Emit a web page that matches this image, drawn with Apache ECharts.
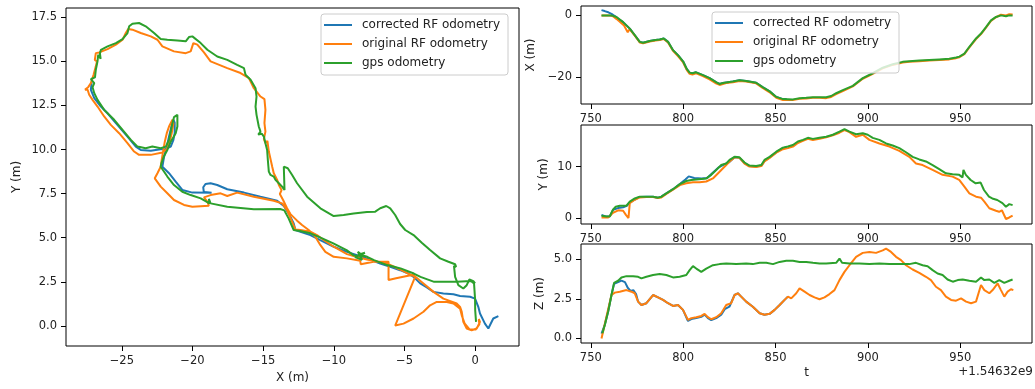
<!DOCTYPE html>
<html><head><meta charset="utf-8">
<script src="https://cdn.jsdelivr.net/npm/echarts@6/dist/echarts.min.js"></script>
<style>html,body{margin:0;padding:0;background:#fff}#c{width:1035px;height:389px}</style>
</head><body><div id="c"></div>
<script>
// ---------- names ----------
const seriesNames = ['corrected RF odometry', 'original RF odometry', 'gps odometry'];
const seriesColors = ['#1f77b4', '#ff7f0e', '#2ca02c'];

// ---------- tick labels ----------
const xyXTicks = [-25, -20, -15, -10, -5, 0];
const xyYTicks = [0, 2.5, 5, 7.5, 10, 12.5, 15, 17.5];
const tTicks = [750, 800, 850, 900, 950];
const xTTicks = [-20, 0];
const yTTicks = [0, 10];
const zTTicks = [0, 2.5, 5];
const tOffsetLabel = '+1.54632e9';

// ---------- XY trajectories [X (m), Y (m)] ----------
const trajCorrected = [
[1.64,0.55],[1.28,0.42],[0.93,-0.15],[0.69,0.13],[0.34,0.70],[0.22,1.08],[-0.01,1.55],[-0.36,1.65],[-1.07,1.70],[-1.54,1.80],[-2.25,1.84],[-2.95,1.93],[-3.42,2.18],[-3.89,2.41],[-4.36,2.78],[-4.72,2.97],[-5.31,3.16],[-6.01,3.35],[-6.72,3.54],[-7.66,3.83],[-8.13,3.96],[-9.07,4.2],[-10.0,4.49],[-10.96,4.87],[-11.66,5.15],[-12.36,5.34],[-12.72,5.44],[-12.84,5.81],[-13.19,6.38],[-13.54,6.80],[-14.01,7.10],[-15.19,7.33],[-16.36,7.56],[-17.54,7.75],[-18.25,7.99],[-18.72,8.09],[-19.08,8.05],[-19.24,7.86],[-19.2,7.6],[-18.65,7.55],[-20.01,7.56],[-20.72,7.71],[-21.19,8.18],[-21.66,8.66],[-22.13,9.03],[-22.01,9.6],[-21.82,10.17],[-21.66,10.74],[-21.49,11.31],[-21.35,11.69],[-21.26,11.53],[-21.26,10.93],[-21.35,10.55],[-21.54,10.17],[-21.89,10.04],[-22.25,10.02],[-22.95,9.94],[-23.66,9.98],[-24.01,10.17],[-24.60,10.74],[-25.42,11.50],[-26.01,12.06],[-26.48,12.44],[-26.95,12.92],[-27.19,13.39],[-27.14,13.77],[-27.2,13.85]
];
const trajOriginal = [
[0.25,0.35],[0.3,0.1],[0.05,-0.2],[-0.4,-0.2],[-0.75,0.15],[-0.95,0.6],[-1.07,0.98],[-1.54,1.27],[-2.01,1.36],[-2.72,1.36],[-3.19,1.17],[-3.66,0.8],[-4.36,0.42],[-5.07,0.13],[-5.66,0.02],
[-4.25,2.78],[-4.84,3.01],[-5.31,3.2],[-6.25,3.54],[-7.66,3.77],[-8.6,3.96],[-9.07,4.07],[-10.01,4.49],[-10.72,4.87],[-11.19,5.15],[-11.66,5.34],[-12.36,5.44],[-12.72,5.47],[-13.0,6.0],[-13.31,6.57],[-13.66,6.95],[-14.25,7.1],[-15.66,7.33],[-16.84,7.56],[-17.54,7.37],[-18.01,7.52],[-18.72,7.42],[-19.19,7.29],[-18.95,7.05],[-18.84,6.82],[-18.95,6.86],[-20.01,6.76],[-20.6,6.86],[-21.31,7.14],[-21.78,7.52],[-22.25,7.9],[-22.67,8.37],[-22.48,8.66],[-22.25,9.03],[-22.18,9.41],[-22.06,9.98],[-21.96,10.45],[-21.82,10.93],[-21.66,11.31],[-21.42,11.69],[-21.35,11.46],[-21.47,10.93],[-21.64,10.36],[-21.82,10.02],[-22.13,9.83],[-22.95,9.7],[-23.78,9.7],[-24.13,9.89],[-24.6,10.36],[-25.19,10.93],[-25.78,11.4],[-26.25,11.88],[-26.72,12.44],[-27.07,12.82],[-27.31,13.11],[-27.42,13.39],[-27.6,13.4],[-27.38,13.54],[-27.19,13.77],[-27.0,14.24],[-26.84,14.72],[-26.76,15.0],[-26.91,15.09],[-26.84,15.47],[-26.6,15.51],[-26.01,15.7],[-25.42,15.95],[-24.95,16.23],[-24.72,16.61],[-24.55,16.84],[-24.25,16.8],[-23.66,16.61],[-22.95,16.42],[-22.48,16.23],[-22.13,15.85],[-21.31,15.57],[-20.48,15.47],[-20.13,15.57],[-19.94,16.04],[-19.66,15.95],[-19.19,15.51],[-18.72,15.0],[-17.54,14.62],[-16.6,14.34],[-16.01,14.05],[-15.66,13.48],[-15.19,13.01],[-14.91,12.86],[-14.84,12.25],[-14.91,11.5],[-14.84,11.02],[-14.95,10.6],[-14.84,10.36],[-14.7,10.5],[-14.6,9.89],[-14.36,9.03],[-14.25,8.66],[-14.01,8.28],[-13.89,7.99],[-13.7,7.7],[-13.82,7.48],[-13.59,7.14],[-13.31,6.67],[-13.07,6.34],[-12.6,5.97],[-12.25,5.72],[-11.78,5.44],[-11.31,5.06],[-10.95,4.58],[-10.6,4.2],[-10.01,3.92],[-9.07,3.83],[-8.13,3.69],[-8.1,3.5],[-7.19,3.64],[-6.13,3.64],[-6.13,2.6],[-5.6,2.7],[-4.4,2.9],[-3.66,2.41],[-2.95,1.93],[-2.25,1.55],[-1.31,1.27],[-1.07,1.08],[-0.95,0.8],[-1.05,0.7],[-0.84,0.23],[-0.6,-0.15],[-0.25,-0.25],[0.11,-0.15],[0.34,0.23],[0.25,0.4]
];
const trajGps = [
[0.06,0.23],[0.0,0.9],[-0.01,1.55],[-0.08,2.4],[-0.3,2.55],[-1.3,2.5],[-2.9,2.5],[-3.87,2.78],[-4.34,2.97],[-5.28,3.26],[-6.22,3.45],[-7.16,3.73],[-7.64,3.92],
[-8.2,4.05],[-7.8,4.15],[-8.5,3.9],[-8.0,3.75],[-8.3,4.2],[-7.9,3.95],[-8.6,4.0],
[-9.1,4.3],[-10.04,4.68],[-10.98,5.02],[-11.66,5.25],[-12.4,5.38],[-12.84,5.44],[-13.2,6.1],[-13.5,6.55],[-13.8,6.63],[-15.66,6.61],[-17.54,6.76],[-18.72,6.95],[-18.84,7.2],[-18.8,6.95],[-19.42,7.23],[-20.13,7.42],[-20.72,7.61],[-21.31,7.99],[-21.78,8.47],[-22.25,9.03],
[-22.2,9.22],[-22.01,9.64],[-21.78,9.98],[-21.54,10.45],[-21.19,10.93],[-21.07,11.31],[-21.07,11.97],[-21.31,11.84],[-21.42,11.5],[-21.54,11.02],[-21.66,10.55],[-21.89,10.17],[-22.25,10.08],[-22.84,10.17],[-23.31,10.08],[-23.89,10.17],[-24.36,10.55],[-24.95,11.12],[-25.54,11.69],[-26.25,12.25],[-26.72,12.82],[-26.95,13.2],[-27.07,13.54],[-26.95,13.77],[-27.19,14.0],[-26.9,14.1],
[-26.84,14.53],[-26.72,15.0],[-26.67,15.38],[-26.5,15.15],[-26.55,15.45],[-26.48,15.66],[-26.01,15.85],[-25.42,16.04],[-24.95,16.27],[-24.6,16.61],[-24.48,16.99],[-24.25,17.14],[-23.78,17.18],[-23.31,16.99],[-22.72,16.61],[-22.25,16.27],[-21.78,16.23],[-21.07,16.19],[-20.48,16.14],[-20.25,16.38],[-20.01,16.42],[-19.42,16.04],[-18.95,15.66],[-18.25,15.28],[-17.54,15.09],[-16.84,14.81],[-16.36,14.62],[-16.25,14.24],[-15.89,13.96],[-15.54,13.48],[-15.47,13.01],[-15.54,12.44],[-15.47,11.97],[-15.31,11.31],[-15.19,11.02],[-15.35,10.85],[-15.1,10.9],[-14.95,10.74],[-14.84,10.36],[-14.72,9.98],[-14.67,9.41],[-14.6,8.75],[-14.48,8.56],[-14.25,8.47],[-14.13,8.28],[-13.89,8.09],[-13.66,7.9],[-13.49,7.71],[-13.54,9.03],[-13.42,9.13],[-13.26,8.94],[-12.95,8.56],[-12.6,8.09],[-11.89,7.33],[-10.95,6.67],[-10.01,6.23],[-9.31,6.29],[-8.6,6.38],[-7.66,6.46],[-7.07,6.48],[-6.72,6.67],[-6.29,6.8],[-6.01,6.67],[-5.66,6.29],[-5.31,5.78],[-4.95,5.44],[-4.36,5.15],[-3.78,4.72],[-3.19,4.3],[-2.48,3.83],[-1.89,3.64],[-1.42,3.5],[-1.35,3.35],[-1.5,3.4],[-1.42,2.78],[-1.19,2.31],[-0.84,2.12],[-0.6,2.31],[-0.41,2.63],[-0.13,2.54],[-0.01,2.41]
];

// ---------- time series [t - 1.54632e9 (s), value (m)] ----------
const corrX = [[755.8,1.7],[757.5,1.4],[759.5,1.0],[761.2,0.5],[763,-0.2],[765,-1.2],[767.5,-2.2],[771.1,-4.3],[773.8,-6.45],[776.5,-8.6],[778.3,-8.9],[781.9,-8.3],[785,-8.0],[787.3,-7.85],[789.5,-7.5],[791.8,-8.6],[794.5,-11.3],[797.3,-13.0],[800,-15.0],[802,-17.5],[803.5,-18.6],[805,-18.8],[807,-18.5],[810.7,-19.4],[814.3,-20.4],[818,-21.8],[819.7,-22.3],[821.5,-22.0],[823.3,-21.8],[826.9,-21.5],[830.5,-21.1],[834.1,-21.3],[839.5,-21.9],[843,-23.3],[846.8,-24.7],[850.4,-26.5],[854,-27.2],[856,-27.2]];
const origX = [[755.8,0],[760,0],[762,-0.3],[764,-1.2],[766,-2.2],[768,-3.3],[770,-5.5],[771,-4.5],[773.8,-6.6],[776.5,-8.8],[778.3,-9.1],[781.9,-8.5],[785,-8.2],[787.3,-8.0],[789.5,-7.7],[791.8,-8.8],[794.5,-11.5],[797.3,-13.3],[800,-15.3],[802,-17.8],[803.5,-19.0],[805,-19.2],[807,-18.8],[810.7,-19.7],[814.3,-20.8],[818,-22.2],[819.7,-22.6],[821.5,-22.3],[823.3,-22.0],[826.9,-21.7],[830.5,-21.3],[834.1,-21.5],[839.5,-22.1],[843,-23.6],[846.8,-25.0],[850.4,-26.8],[854,-27.5],[859.4,-27.5],[863,-27.1],[866.6,-27.0],[870.2,-26.8],[873.8,-26.8],[877.4,-26.9],[880.1,-26.5],[882.8,-25.6],[886.4,-24.6],[891.8,-23.1],[897.2,-20.6],[902.6,-19.0],[908,-17.2],[913.4,-16.1],[918.8,-15.3],[922.4,-15.1],[927.8,-14.9],[933.2,-14.7],[938.6,-14.5],[944,-14.3],[947.7,-13.9],[949.5,-13.6],[952.2,-12.6],[954.9,-10.4],[958.5,-7.7],[961.2,-6.1],[963.9,-4.0],[966.6,-1.8],[969.3,-0.6],[972,0.2],[974.7,0.0],[976.5,0.4],[978.3,0.3]];
const gpsX = [[755.8,0],[758,0],[761.2,0],[763.9,-0.5],[767.5,-2.2],[771.1,-4.3],[773.8,-6.4],[776.5,-8.6],[778.3,-8.9],[781.9,-8.3],[785,-8.0],[787.3,-7.85],[789.5,-7.5],[791.8,-8.6],[794.5,-11.3],[797.3,-13.0],[800,-15.0],[802,-17.5],[803.5,-18.6],[805,-18.8],[807,-18.5],[810.7,-19.4],[814.3,-20.4],[818,-21.8],[819.7,-22.3],[821.5,-22.0],[823.3,-21.8],[826.9,-21.5],[830.5,-21.1],[834.1,-21.3],[839.5,-21.9],[843,-23.3],[846.8,-24.7],[850.4,-26.5],[854,-27.2],[859.4,-27.3],[863,-26.9],[866.6,-26.8],[870.2,-26.6],[873.8,-26.6],[877.4,-26.6],[880.1,-26.2],[882.8,-25.3],[886.4,-24.3],[891.8,-22.9],[897.2,-20.4],[902.6,-18.8],[908,-17.0],[913.4,-15.9],[918.8,-15.1],[922.4,-14.9],[927.8,-14.7],[933.2,-14.5],[938.6,-14.3],[944,-14.1],[947.7,-13.7],[949.5,-13.4],[952.2,-12.4],[954.9,-10.2],[958.5,-7.5],[961.2,-5.9],[963.9,-3.8],[966.6,-1.6],[969.3,-0.5],[972,0.0],[974.7,-0.3],[976.5,0.0],[978.3,0.0]];

const corrY = [[755.8,0.6],[758,0.3],[760.3,0.3],[762.1,1.6],[764.8,1.93],[767.5,2.1],[769.5,2.35],[771.1,3.0],[773.8,3.6],[776.5,4.1],[780.1,4.15],[783.7,4.15],[786.4,3.96],[788.2,4.15],[790.9,4.8],[794.5,5.6],[798.2,6.6],[801.2,7.5],[803,8.1],[806,7.8],[810,7.7],[813,7.8],[816,8.8],[819,9.8],[822,10.4],[825,10.9],[827.8,11.8],[830.5,11.7],[833.2,10.7],[835.9,10.1],[839.5,10.0],[842.3,10.2],[844,11.1],[846.8,11.8],[850.4,12.8],[854,13.6],[856,13.8]];
const origY = [[755.8,0.1],[759.4,0.1],[762,1.0],[764.8,1.5],[767.5,1.4],[769,0.6],[770.4,0.0],[771.1,2.9],[772,3.2],[773.8,3.55],[776.5,4.0],[780.1,4.1],[783.7,4.1],[786.4,3.9],[788.2,4.0],[790.9,4.7],[794.5,5.5],[798.2,6.4],[801.7,6.75],[805.3,6.95],[808.9,6.95],[812.5,7.1],[816.1,7.7],[819.7,9.0],[823.3,10.3],[825.1,11.0],[827.8,11.8],[830.5,11.7],[833.2,10.6],[835.9,10.0],[839.5,9.9],[842.3,10.1],[844,11.0],[846.8,11.7],[850.4,12.7],[854,13.4],[856.7,13.6],[859.4,13.9],[862.1,14.6],[864.8,15.0],[867.5,15.4],[870.2,15.2],[873.8,15.4],[877.4,15.7],[881,16.1],[884.6,16.6],[887.3,17.1],[890,16.7],[893.6,15.8],[897.2,16.2],[900.8,15.2],[906.2,14.5],[911.6,13.9],[917,13.05],[922.4,11.9],[926,10.6],[929.6,10.3],[935,9.35],[940.4,8.4],[945.8,8.05],[949.4,7.4],[952.2,6.1],[954.9,4.8],[958.5,4.15],[961.2,3.96],[963,3.2],[965.7,1.9],[969.3,1.4],[971,1.2],[972.5,1.5],[974.7,-0.2],[976.5,0.1],[978.3,0.45]];
const gpsY = [[755.8,0.45],[758.5,0.3],[760.3,0.35],[762,1.6],[763.5,2.2],[765.7,2.4],[769.3,2.4],[771.1,3.2],[773.8,3.8],[776.5,4.15],[780.1,4.15],[783.7,4.15],[786.4,3.96],[788.2,4.15],[790.9,4.8],[794.5,5.6],[798.2,6.6],[801.7,7.2],[804.4,7.4],[807.1,7.5],[809.8,7.6],[812.5,7.7],[815.2,8.4],[817.9,9.35],[820.6,10.3],[823.3,10.6],[825.1,11.3],[827.8,11.9],[830.5,11.8],[833.2,10.8],[835.9,10.2],[839.5,10.1],[842.3,10.3],[844,11.3],[846.8,11.9],[850.4,12.9],[854,13.7],[856.7,13.9],[859.4,14.2],[862.1,14.9],[864.8,15.2],[867.5,15.6],[870.2,15.4],[873.8,15.6],[877.4,15.8],[881,16.2],[884.6,16.8],[887.3,17.3],[890,16.8],[893.6,16.3],[897.2,16.5],[899.9,16.2],[902.6,15.6],[906.2,15.2],[909.8,14.5],[913.4,14.1],[917,13.6],[920.6,12.8],[924.2,11.9],[927.8,11.4],[931.4,11.0],[935,10.3],[938.6,9.5],[942.2,8.7],[945.8,8.5],[949.4,8.4],[951.2,7.9],[951.7,9.35],[953,8.4],[955.6,7.4],[958.3,6.75],[961,6.9],[962.8,5.45],[965.5,4.15],[967.3,3.8],[970,3.5],[972.8,2.9],[974.7,2.2],[976.5,2.7],[978.3,2.5]];

const corrZ = [[755.8,0.3],[757.6,0.86],[759.4,1.7],[761.2,2.74],[762.6,3.45],[764.8,3.55],[766.6,3.65],[768.5,3.55],[770,3.2],[771.5,3.0],[773,3.05],[774.5,2.8],[775.6,2.32],[777.4,2.11],[780.1,2.22],[783.7,2.74],[786.4,2.59],[789.1,2.43],[791.8,2.22],[794.5,2.05],[797.2,2.11],[799.9,1.8],[802.6,1.1],[804.4,1.22],[807.1,1.28],[809.8,1.36],[811.6,1.5],[813.4,1.28],[815.2,1.15],[817.9,1.28],[820.6,1.5],[822.5,1.85],[825,2.0],[827.8,2.74],[829.6,2.85],[831.4,2.64],[834.1,2.32],[837.7,2.0],[841.4,1.59],[844,1.49],[846.8,1.55],[849.5,1.8],[852.2,2.11],[854.9,2.43],[856.7,2.64]];
const origZ = [[755.8,0],[758.5,1.38],[761.2,2.74],[763,2.89],[765.7,2.95],[769.3,3.05],[772,2.95],[773.8,2.85],[775.6,2.32],[777.4,2.11],[780.1,2.22],[783.7,2.74],[786.4,2.59],[789.1,2.43],[791.8,2.22],[794.5,2.05],[797.2,2.11],[799.9,1.8],[802.6,1.17],[804.4,1.28],[807.1,1.34],[809.8,1.42],[811.6,1.55],[813.4,1.34],[815.2,1.21],[817.9,1.34],[820.6,1.59],[823.3,2.11],[826,2.22],[827.8,2.74],[829.6,2.85],[831.4,2.64],[834.1,2.32],[837.7,2.0],[841.4,1.59],[844,1.49],[846.8,1.55],[849.5,1.8],[852.2,2.11],[854.9,2.43],[856.7,2.64],[858.5,2.53],[861.2,2.85],[863,3.16],[865.7,2.95],[868.4,2.74],[871.1,2.59],[873.8,2.47],[876.5,2.59],[879.2,2.8],[881.9,3.05],[884.6,3.68],[887.3,4.2],[890,4.62],[893.6,5.15],[897.2,5.4],[900.8,5.46],[904.4,5.4],[908,5.56],[909.8,5.67],[912.5,5.46],[915.2,5.15],[917.9,4.94],[920.6,4.62],[924.2,4.35],[927.8,4.14],[931.4,3.89],[934.1,3.68],[936.8,3.26],[939.5,3.05],[942.2,2.64],[945,2.43],[947.7,2.38],[950.4,2.53],[953.1,2.32],[955.8,2.22],[958.5,2.32],[961.2,3.37],[963,3.05],[965.7,2.85],[967.5,3.05],[970.2,3.47],[972,3.05],[973.8,2.64],[975.6,2.95],[977.4,3.1],[978.7,3.05]];
const gpsZ = [[756.3,0.33],[757.6,0.86],[759.4,1.7],[761.2,2.74],[762.6,3.5],[764.8,3.64],[766.6,3.85],[769.3,3.93],[772.9,3.93],[775.6,3.89],[777.4,3.79],[780.1,3.89],[783.7,4.0],[787.3,4.06],[790.9,4.0],[794.5,3.85],[798.1,3.89],[801.7,4.0],[803.5,4.31],[805.3,4.56],[807.1,4.41],[809.8,4.2],[812.5,4.41],[816.1,4.62],[819.7,4.69],[823.3,4.73],[828.7,4.69],[834.1,4.73],[837.7,4.69],[841.4,4.77],[845,4.77],[848.6,4.69],[852.2,4.83],[855.8,4.9],[859.4,4.9],[863,4.83],[866.6,4.83],[870.2,4.77],[873.8,4.73],[877.4,4.73],[882.8,4.77],[884.6,5.04],[886,4.77],[890,4.73],[895.4,4.73],[900.8,4.69],[906.2,4.73],[911.6,4.69],[917,4.69],[922.4,4.69],[926,4.77],[929.6,4.62],[932.3,4.56],[935,4.31],[937.7,4.1],[940.4,4.0],[943.1,3.72],[945.9,3.58],[948.6,3.68],[951.3,3.72],[954.9,3.64],[958.5,3.58],[961.2,3.85],[963,3.68],[965.7,3.72],[968.4,3.51],[971.1,3.68],[973.8,3.51],[976.5,3.64],[978.3,3.72]];

// ---------- chart ----------
const FONT = 'DejaVu Sans';
const TXT = '#222';
const minus = v => String(v).replace('-', '\u2212');

function axis(gridIndex, min, max, ticks, fmt, name, nameGap) {
  return {
    type: 'value', gridIndex, min, max, scale: true,
    name, nameLocation: 'middle', nameGap,
    nameTextStyle: { color: TXT, fontSize: 12, fontFamily: FONT },
    axisLine: { show: false, onZero: false },
    splitLine: { show: false },
    axisTick: { show: true, customValues: ticks, length: 5, lineStyle: { color: '#000', width: 1 } },
    axisLabel: { customValues: ticks, formatter: fmt, color: TXT, fontSize: 11.5, fontFamily: FONT, margin: 9 }
  };
}
function line(nameIdx, axisIdx, data) {
  const c = seriesColors[nameIdx];
  return {
    type: 'line', name: seriesNames[nameIdx], xAxisIndex: axisIdx, yAxisIndex: axisIdx,
    data, symbol: 'none', showSymbol: false, clip: true, animation: false,
    lineStyle: { color: c, width: 2 }, itemStyle: { color: c }, emphasis: { disabled: true }
  };
}
function legendAt(left, top) {
  return {
    data: seriesNames, left, top, orient: 'vertical', selectedMode: false,
    icon: 'rect', itemWidth: 28, itemHeight: 2, itemGap: 7,
    backgroundColor: 'rgba(255,255,255,0.8)', borderColor: '#cccccc', borderWidth: 1, borderRadius: 3,
    padding: [5, 8, 6, 3],
    textStyle: { color: TXT, fontSize: 12, fontFamily: FONT, padding: [0, 0, 0, 5] }
  };
}
const gridBase = { show: true, borderColor: '#000', borderWidth: 1, backgroundColor: 'transparent' };
const tFmt = v => String(v);

const option = {
  animation: false,
  backgroundColor: '#fff',
  textStyle: { fontFamily: FONT },
  grid: [
    Object.assign({ left: 66, top: 8, width: 453, height: 338 }, gridBase),
    Object.assign({ left: 581, top: 6, width: 451, height: 98 }, gridBase),
    Object.assign({ left: 581, top: 125, width: 451, height: 99 }, gridBase),
    Object.assign({ left: 581, top: 244, width: 451, height: 99 }, gridBase)
  ],
  xAxis: [
    axis(0, -28.95, 3.1, xyXTicks, minus, 'X (m)', 25),
    axis(1, 744.7, 988.8, tTicks, tFmt, '', 0),
    axis(2, 744.7, 988.8, tTicks, tFmt, '', 0),
    axis(3, 744.7, 988.8, tTicks, tFmt, 't', 24)
  ],
  yAxis: [
    axis(0, -1.14, 18.03, xyYTicks, v => v.toFixed(1), 'Y (m)', 43),
    axis(1, -28.8, 3.05, xTTicks, minus, 'X (m)', 44),
    axis(2, -1.17, 18.1, yTTicks, minus, 'Y (m)', 31),
    axis(3, -0.29, 5.96, zTTicks, v => v.toFixed(1), 'Z (m)', 35)
  ],
  legend: [legendAt(321, 14), legendAt(712, 12)],
  graphic: [{
    type: 'text', right: 2, top: 366,
    style: { text: tOffsetLabel, fill: TXT, font: '12px "DejaVu Sans"' }
  }],
  series: [
    line(0, 0, trajCorrected), line(1, 0, trajOriginal), line(2, 0, trajGps),
    line(0, 1, corrX), line(1, 1, origX), line(2, 1, gpsX),
    line(0, 2, corrY), line(1, 2, origY), line(2, 2, gpsY),
    line(0, 3, corrZ), line(1, 3, origZ), line(2, 3, gpsZ)
  ]
};
const chart = echarts.init(document.getElementById('c'), null, { renderer: 'canvas' });
chart.setOption(option);
</script></body></html>
